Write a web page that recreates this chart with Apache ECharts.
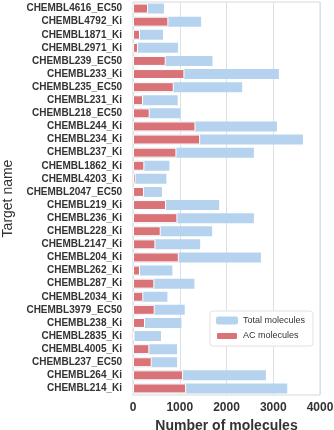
<!DOCTYPE html>
<html>
<head>
<meta charset="utf-8">
<script src="https://cdn.jsdelivr.net/npm/echarts@6/dist/echarts.min.js"></script>
<style>
  html, body { margin: 0; padding: 0; background: #fff; }
  #chart { width: 334px; height: 430px; }
</style>
</head>
<body>
<div id="chart"></div>
<script>
// targets, top to bottom
var targets = [
  'CHEMBL4616_EC50', 'CHEMBL4792_Ki', 'CHEMBL1871_Ki', 'CHEMBL2971_Ki', 'CHEMBL239_EC50',
  'CHEMBL233_Ki', 'CHEMBL235_EC50', 'CHEMBL231_Ki', 'CHEMBL218_EC50', 'CHEMBL244_Ki',
  'CHEMBL234_Ki', 'CHEMBL237_Ki', 'CHEMBL1862_Ki', 'CHEMBL4203_Ki', 'CHEMBL2047_EC50',
  'CHEMBL219_Ki', 'CHEMBL236_Ki', 'CHEMBL228_Ki', 'CHEMBL2147_Ki', 'CHEMBL204_Ki',
  'CHEMBL262_Ki', 'CHEMBL287_Ki', 'CHEMBL2034_Ki', 'CHEMBL3979_EC50', 'CHEMBL238_Ki',
  'CHEMBL2835_Ki', 'CHEMBL4005_Ki', 'CHEMBL237_EC50', 'CHEMBL264_Ki', 'CHEMBL214_Ki'
];
var totalMolecules = [
  664, 1457, 643, 964, 1700,
  3121, 2336, 957, 1014, 3079,
  3636, 2586, 779, 714, 621,
  1843, 2586, 1693, 1436, 2736,
  843, 1314, 736, 1107, 1036,
  600, 943, 943, 2843, 3300
];
var acMolecules = [
  321, 757, 150, 107, 700,
  1100, 871, 214, 357, 1336,
  1436, 929, 243, 57, 236,
  707, 950, 593, 479, 979,
  150, 457, 221, 464, 257,
  36, 350, 400, 1071, 1136
];
var xTicks = [0, 1000, 2000, 3000, 4000];

var myChart = echarts.init(document.getElementById('chart'));
var font = 'Liberation Sans, Arial, sans-serif';
myChart.setOption({
  animation: false,
  backgroundColor: '#fff',
  grid: {
    left: 133, right: 14, top: 2, bottom: 35,
    containLabel: false, outerBoundsMode: 'none',
    show: true, borderColor: '#d8d8d8', borderWidth: 1
  },
  legend: {
    data: ['Total molecules', 'AC molecules'],
    orient: 'vertical',
    left: 210, top: 311,
    itemWidth: 22, itemHeight: 8, itemGap: 6,
    padding: [5, 8, 5, 5],
    borderColor: '#e2e2e2', borderWidth: 1, borderRadius: 3,
    backgroundColor: '#fff',
    textStyle: { fontFamily: font, fontSize: 9, color: '#333' }
  },
  xAxis: {
    type: 'value',
    min: xTicks[0], max: xTicks[xTicks.length - 1], interval: 1000,
    name: 'Number of molecules',
    nameLocation: 'middle', nameGap: 23,
    nameTextStyle: { fontFamily: font, fontSize: 14, fontWeight: 'bold', color: '#333' },
    axisLine: { show: false },
    axisTick: { show: false },
    axisLabel: {
      fontFamily: font, fontSize: 12, fontWeight: 'bold', color: '#333', margin: 7,
      formatter: function (v) { return String(v); }
    },
    splitLine: { show: true, lineStyle: { color: '#dde1e6', width: 1 } }
  },
  yAxis: {
    type: 'category',
    data: targets,
    inverse: true,
    name: 'Target name',
    nameLocation: 'middle', nameGap: 115,
    nameTextStyle: { fontFamily: font, fontSize: 14, color: '#333' },
    axisLine: { show: false },
    axisTick: { show: false },
    axisLabel: { fontFamily: font, fontSize: 10, fontWeight: 'bold', color: '#333', margin: 11, interval: 0 },
    splitLine: { show: false }
  },
  series: [
    {
      name: 'Total molecules',
      type: 'bar',
      data: totalMolecules,
      barCategoryGap: '24%',
      itemStyle: { color: '#b5d3ef' }
    },
    {
      name: 'AC molecules',
      type: 'bar',
      data: acMolecules,
      barGap: '-100%',
      itemStyle: { color: '#d97377', borderColor: '#fff', borderWidth: 1 }
    }
  ]
});
</script>
</body>
</html>
